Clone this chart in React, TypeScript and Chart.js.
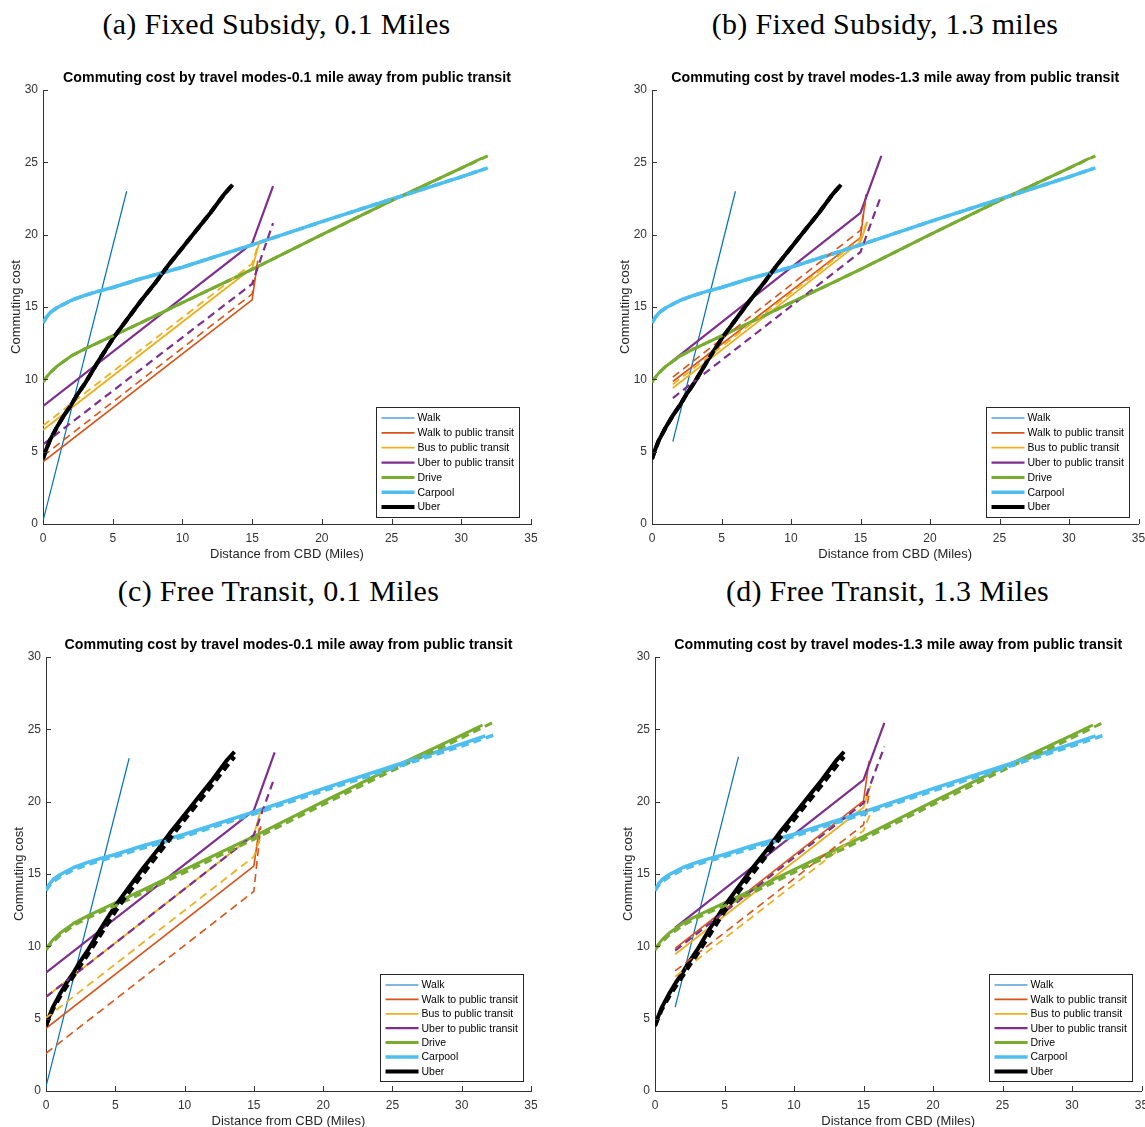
import React, { useEffect, useRef } from "react";
import { Chart, registerables } from "chart.js";

Chart.register(...registerables);

type Pt = [number, number];

// ---------- labels ----------
const LEGEND_LABELS = [
  "Walk",
  "Walk to public transit",
  "Bus to public transit",
  "Uber to public transit",
  "Drive",
  "Carpool",
  "Uber",
];
const X_TICKS = [0, 5, 10, 15, 20, 25, 30, 35];
const Y_TICKS = [0, 5, 10, 15, 20, 25, 30];
const X_TITLE = "Distance from CBD (Miles)";
const Y_TITLE = "Commuting cost";
const TITLE_01 = "Commuting cost by travel modes-0.1 mile away from public transit";
const TITLE_13 = "Commuting cost by travel modes-1.3 mile away from public transit";
const CAPTIONS = [
  "(a) Fixed Subsidy, 0.1 Miles",
  "(b) Fixed Subsidy, 1.3 miles",
  "(c) Free Transit, 0.1 Miles",
  "(d) Free Transit, 1.3 Miles",
];

// ---------- shared curves (solid, baseline) ----------
const DRIVE_X = [0, 0.25, 0.5, 1, 1.5, 2, 3, 4, 5, 7, 10, 15, 20, 25, 30, 31.5];
const DRIVE_Y = [9.8, 10.15, 10.45, 10.9, 11.25, 11.6, 12.1, 12.55, 13.0, 13.9, 15.3, 17.6, 20.0, 22.35, 24.6, 25.3];
const CARPOOL_X = [0, 0.25, 0.5, 1, 2, 3, 4, 5, 7, 10, 15, 20, 25, 30, 31.7];
const CARPOOL_Y = [13.9, 14.3, 14.6, 14.95, 15.45, 15.8, 16.1, 16.35, 16.95, 17.75, 19.3, 20.9, 22.45, 24.0, 24.55];
const UBER_X = [0, 0.25, 0.5, 1, 1.5, 2, 2.5, 3, 3.5, 4, 5, 6, 7, 8, 9, 10, 11, 12, 13, 13.6];
const UBER_Y = [4.5, 5.2, 5.8, 6.7, 7.5, 8.2, 9.0, 9.7, 10.5, 11.3, 12.8, 14.1, 15.4, 16.6, 17.9, 19.1, 20.3, 21.5, 22.8, 23.45];

// ---------- shared curves (dashed, fixed subsidy) ----------
const DRIVE_SUB_X = [0, 0.25, 0.5, 1, 1.5, 2, 3, 4, 5, 7, 10, 15, 20, 25, 30, 31.9];
const DRIVE_SUB_Y = [9.8, 10.15, 10.45, 10.9, 11.25, 11.6, 12.1, 12.55, 13.0, 13.9, 15.3, 17.6, 20.0, 22.35, 24.6, 25.45];
const CARPOOL_SUB_X = [0, 0.25, 0.5, 1, 2, 3, 4, 5, 7, 10, 15, 20, 25, 30, 31.9];
const CARPOOL_SUB_Y = [13.9, 14.3, 14.6, 14.95, 15.45, 15.8, 16.1, 16.35, 16.95, 17.75, 19.3, 20.9, 22.45, 24.0, 24.62];
const UBER_SUB_X = [0, 0.25, 0.5, 1, 1.5, 2, 2.5, 3, 3.5, 4, 5, 6, 7, 8, 9, 10, 11, 12, 13, 13.5];
const UBER_SUB_Y = [4.5, 5.2, 5.8, 6.7, 7.5, 8.2, 9.0, 9.7, 10.5, 11.3, 12.8, 14.1, 15.4, 16.6, 17.9, 19.1, 20.3, 21.5, 22.8, 23.35];

// ---------- shared curves (dashed, free transit) ----------
const DRIVE_FREE_X = [0, 0.25, 0.5, 1, 1.5, 2, 3, 4, 5, 7, 10, 15, 20, 25, 30, 32.3];
const DRIVE_FREE_Y = [9.75, 10.05, 10.3, 10.75, 11.1, 11.45, 11.95, 12.4, 12.8, 13.7, 15.1, 17.4, 19.8, 22.15, 24.4, 25.5];
const CARPOOL_FREE_X = [0, 0.25, 0.5, 1, 2, 3, 4, 5, 7, 10, 15, 20, 25, 30, 32.3];
const CARPOOL_FREE_Y = [13.85, 14.2, 14.45, 14.8, 15.3, 15.65, 15.95, 16.2, 16.8, 17.6, 19.15, 20.75, 22.3, 23.85, 24.6];
const UBER_FREE_X = [0, 0.25, 0.5, 1, 1.5, 2, 2.5, 3, 3.5, 4, 5, 6, 7, 8, 9, 10, 11, 12, 13, 13.6];
const UBER_FREE_Y = [4.5, 5.1, 5.65, 6.5, 7.25, 7.95, 8.7, 9.4, 10.15, 10.9, 12.4, 13.75, 15.0, 16.25, 17.5, 18.75, 19.95, 21.15, 22.4, 23.1];

// ---------- panel (a): fixed subsidy, 0.1 miles ----------
const WALK_A: Pt[] = [[0, 0.2], [6, 23.0]];
const WTPT_A: Pt[] = [[0, 4.3], [15, 15.5], [15.4, 18.2]];
const WTPT_A_D: Pt[] = [[0, 4.7], [15, 15.9], [15.4, 18.2]];
const BUS_A: Pt[] = [[0, 6.5], [15, 17.7], [15.5, 19.4]];
const BUS_A_D: Pt[] = [[0, 6.8], [15, 18.0], [15.5, 19.5]];
const UTPT_A: Pt[] = [[0, 8.15], [15, 19.4], [16.5, 23.35]];
const UTPT_A_D: Pt[] = [[0, 5.5], [15, 16.6], [16.5, 20.8]];

// ---------- panel (b): fixed subsidy, 1.3 miles ----------
const WALK_B: Pt[] = [[1.5, 5.7], [6, 23.0]];
const WTPT_B: Pt[] = [[1.5, 9.85], [15, 19.8], [15.4, 22.8]];
const WTPT_B_D: Pt[] = [[1.5, 10.15], [15, 20.3], [15.4, 22.5]];
const BUS_B: Pt[] = [[1.5, 9.4], [15, 19.5], [15.5, 20.9]];
const BUS_B_D: Pt[] = [[1.5, 9.65], [15, 19.7], [15.5, 21.0]];
const UTPT_B: Pt[] = [[1.5, 11.3], [15, 21.5], [16.5, 25.45]];
const UTPT_B_D: Pt[] = [[1.5, 8.7], [15, 18.8], [16.5, 22.75]];

// ---------- panel (c): free transit, 0.1 miles ----------
const WALK_C: Pt[] = [[0, 0.3], [6, 23.0]];
const WTPT_C: Pt[] = [[0, 4.33], [15, 15.55], [15.4, 18.2]];
const WTPT_C_D: Pt[] = [[0, 2.6], [15, 13.8], [15.5, 18.3]];
const BUS_C: Pt[] = [[0, 6.5], [15, 17.7], [15.5, 19.4]];
const BUS_C_D: Pt[] = [[0, 5.05], [15, 16.2], [15.5, 17.6]];
const UTPT_C: Pt[] = [[0, 8.18], [15, 19.4], [16.5, 23.4]];
const UTPT_C_D: Pt[] = [[0, 6.5], [15, 17.7], [16.5, 21.7]];

// ---------- panel (d): free transit, 1.3 miles ----------
const WALK_D: Pt[] = [[1.45, 5.8], [6, 23.1]];
const WTPT_D: Pt[] = [[1.45, 9.86], [15, 20.05], [15.4, 22.8]];
const WTPT_D_D: Pt[] = [[1.45, 8.3], [15, 18.4], [15.4, 20.5]];
const BUS_D: Pt[] = [[1.45, 9.45], [15, 19.6], [15.5, 21.1]];
const BUS_D_D: Pt[] = [[1.45, 7.9], [15, 18.0], [15.5, 19.2]];
const UTPT_D: Pt[] = [[1.45, 11.3], [15, 21.5], [16.5, 25.45]];
const UTPT_D_D: Pt[] = [[1.45, 9.7], [15, 19.9], [16.5, 23.8]];

// ---------- styles ----------
const COLORS = ["#0072BD", "#D95319", "#EDB120", "#7E2F8E", "#77AC30", "#4DBEEE", "#000000"];
const WIDTHS = [1.2, 1.6, 1.8, 2.2, 3, 3.5, 4];
const DASH = [8, 5];
const SANS = "'Liberation Sans', Arial, Helvetica, sans-serif";
const AXIS_COLOR = "#333333";

const xy = (xs: number[], ys: number[]) => xs.map((x, i) => ({ x, y: ys[i] }));
const pp = (p: Pt[]) => p.map(([x, y]) => ({ x, y }));

interface Panel {
  caption: string;
  capX: number;
  capY: number;
  title: string;
  left: number;
  top: number;
  W: number;
  H: number;
  plotLeft: number;
  plotRight: number;
  plotTop: number;
  plotBottom: number;
  legRight: number;
  legBottom: number;
  legH: number;
  solid: { x: number; y: number }[][];
  dashed: ({ x: number; y: number }[] | null)[];
}

const PANELS: Panel[] = [
  {
    caption: CAPTIONS[0], capX: 276.5, capY: 24, title: TITLE_01,
    left: 0, top: 55, W: 570, H: 520,
    plotLeft: 43, plotRight: 531, plotTop: 90, plotBottom: 524,
    legRight: 12, legBottom: 7, legH: 110,
    solid: [pp(WALK_A), pp(WTPT_A), pp(BUS_A), pp(UTPT_A), xy(DRIVE_X, DRIVE_Y), xy(CARPOOL_X, CARPOOL_Y), xy(UBER_X, UBER_Y)],
    dashed: [null, pp(WTPT_A_D), pp(BUS_A_D), pp(UTPT_A_D), xy(DRIVE_SUB_X, DRIVE_SUB_Y), xy(CARPOOL_SUB_X, CARPOOL_SUB_Y), xy(UBER_SUB_X, UBER_SUB_Y)],
  },
  {
    caption: CAPTIONS[1], capX: 885, capY: 24, title: TITLE_13,
    left: 600, top: 55, W: 560, H: 520,
    plotLeft: 652, plotRight: 1138.5, plotTop: 90, plotBottom: 524,
    legRight: 9.5, legBottom: 7, legH: 110,
    solid: [pp(WALK_B), pp(WTPT_B), pp(BUS_B), pp(UTPT_B), xy(DRIVE_X, DRIVE_Y), xy(CARPOOL_X, CARPOOL_Y), xy(UBER_X, UBER_Y)],
    dashed: [null, pp(WTPT_B_D), pp(BUS_B_D), pp(UTPT_B_D), xy(DRIVE_SUB_X, DRIVE_SUB_Y), xy(CARPOOL_SUB_X, CARPOOL_SUB_Y), xy(UBER_SUB_X, UBER_SUB_Y)],
  },
  {
    caption: CAPTIONS[2], capX: 278.5, capY: 591, title: TITLE_01,
    left: 0, top: 622, W: 570, H: 505,
    plotLeft: 46, plotRight: 531, plotTop: 657, plotBottom: 1091,
    legRight: 8, legBottom: 10, legH: 107,
    solid: [pp(WALK_C), pp(WTPT_C), pp(BUS_C), pp(UTPT_C), xy(DRIVE_X, DRIVE_Y), xy(CARPOOL_X, CARPOOL_Y), xy(UBER_X, UBER_Y)],
    dashed: [null, pp(WTPT_C_D), pp(BUS_C_D), pp(UTPT_C_D), xy(DRIVE_FREE_X, DRIVE_FREE_Y), xy(CARPOOL_FREE_X, CARPOOL_FREE_Y), xy(UBER_FREE_X, UBER_FREE_Y)],
  },
  {
    caption: CAPTIONS[3], capX: 887.5, capY: 591, title: TITLE_13,
    left: 600, top: 622, W: 560, H: 505,
    plotLeft: 655, plotRight: 1141.5, plotTop: 657, plotBottom: 1091,
    legRight: 9.5, legBottom: 10, legH: 107,
    solid: [pp(WALK_D), pp(WTPT_D), pp(BUS_D), pp(UTPT_D), xy(DRIVE_X, DRIVE_Y), xy(CARPOOL_X, CARPOOL_Y), xy(UBER_X, UBER_Y)],
    dashed: [null, pp(WTPT_D_D), pp(BUS_D_D), pp(UTPT_D_D), xy(DRIVE_FREE_X, DRIVE_FREE_Y), xy(CARPOOL_FREE_X, CARPOOL_FREE_Y), xy(UBER_FREE_X, UBER_FREE_Y)],
  },
];

function buildDatasets(p: Panel) {
  const list: any[] = [];
  p.solid.forEach((d, i) => {
    list.push({
      label: LEGEND_LABELS[i],
      data: d,
      borderColor: COLORS[i],
      borderWidth: WIDTHS[i],
      borderDash: [],
    });
  });
  p.dashed.forEach((d, i) => {
    if (!d) return;
    list.push({
      label: LEGEND_LABELS[i] + " (policy)",
      data: d,
      borderColor: COLORS[i],
      borderWidth: WIDTHS[i],
      borderDash: DASH,
    });
  });
  return list.map((ds, k) => ({
    ...ds,
    pointRadius: 0,
    pointHoverRadius: 0,
    fill: false,
    tension: 0,
    borderCapStyle: "butt",
    borderJoinStyle: "round",
    order: 100 - k,
  }));
}

function makeDecor(p: Panel) {
  return {
    id: "decor",
    afterDraw(chart: any) {
      const ctx: CanvasRenderingContext2D = chart.ctx;
      const a = chart.chartArea;
      const xs = chart.scales.x;
      const ys = chart.scales.y;
      ctx.save();
      // inward ticks
      ctx.strokeStyle = AXIS_COLOR;
      ctx.lineWidth = 1;
      ctx.beginPath();
      X_TICKS.forEach((v) => {
        const px = Math.round(xs.getPixelForValue(v)) + 0.5;
        ctx.moveTo(px, a.bottom);
        ctx.lineTo(px, a.bottom - 5);
      });
      Y_TICKS.forEach((v) => {
        const py = Math.round(ys.getPixelForValue(v)) + 0.5;
        ctx.moveTo(a.left, py);
        ctx.lineTo(a.left + 5, py);
      });
      ctx.stroke();

      // title
      const cx = (a.left + a.right) / 2;
      ctx.fillStyle = "#000";
      ctx.font = `bold 14.2px ${SANS}`;
      ctx.textAlign = "center";
      ctx.textBaseline = "middle";
      ctx.fillText(p.title, cx, a.top - 12);

      // axis titles
      ctx.fillStyle = "#262626";
      ctx.font = `13px ${SANS}`;
      ctx.fillText(X_TITLE, cx, a.bottom + 30);
      ctx.save();
      ctx.translate(a.left - 27, (a.top + a.bottom) / 2);
      ctx.rotate(-Math.PI / 2);
      ctx.fillText(Y_TITLE, 0, 0);
      ctx.restore();

      // legend
      ctx.font = `10.5px ${SANS}`;
      let tw = 0;
      LEGEND_LABELS.forEach((l) => (tw = Math.max(tw, ctx.measureText(l).width)));
      const bw = 42 + tw + 5;
      const bh = p.legH;
      const bx = a.right - p.legRight - bw;
      const by = a.bottom - p.legBottom - bh;
      ctx.fillStyle = "#fff";
      ctx.fillRect(bx, by, bw, bh);
      ctx.strokeStyle = "#262626";
      ctx.lineWidth = 1;
      ctx.strokeRect(Math.round(bx) + 0.5, Math.round(by) + 0.5, Math.round(bw), Math.round(bh));
      const step = (bh - 10.5) / 6.7;
      LEGEND_LABELS.forEach((l, i) => {
        const ry = by + 11 + i * step;
        ctx.beginPath();
        ctx.strokeStyle = COLORS[i];
        ctx.lineWidth = WIDTHS[i];
        ctx.setLineDash([]);
        ctx.moveTo(bx + 6, ry);
        ctx.lineTo(bx + 39, ry);
        ctx.stroke();
        ctx.fillStyle = "#000";
        ctx.textAlign = "left";
        ctx.textBaseline = "middle";
        ctx.fillText(l, bx + 42, ry + 0.5);
      });
      ctx.restore();
    },
  };
}

function PanelChart({ p }: { p: Panel }) {
  const ref = useRef<HTMLCanvasElement>(null);
  useEffect(() => {
    const canvas = ref.current;
    if (!canvas) return;
    const yAxisW = p.plotLeft - p.left;
    const xAxisH = p.top + p.H - p.plotBottom;
    const chart = new Chart(canvas, {
      type: "line",
      data: { datasets: buildDatasets(p) as any },
      options: {
        animation: false,
        responsive: false,
        devicePixelRatio: 1,
        events: [],
        layout: {
          padding: {
            left: 0,
            bottom: 0,
            top: p.plotTop - p.top,
            right: p.left + p.W - p.plotRight,
          },
        },
        plugins: {
          legend: { display: false },
          tooltip: { enabled: false },
          title: { display: false },
        },
        scales: {
          x: {
            type: "linear",
            min: 0,
            max: 35,
            afterBuildTicks: (s: any) => {
              s.ticks = X_TICKS.map((v) => ({ value: v }));
            },
            afterFit: (s: any) => {
              s.height = xAxisH;
            },
            ticks: {
              autoSkip: false,
              maxRotation: 0,
              padding: 7,
              color: AXIS_COLOR,
              font: { family: SANS, size: 12 },
            },
            grid: { display: false, drawTicks: false },
            border: { display: true, color: AXIS_COLOR, width: 1 },
          },
          y: {
            type: "linear",
            min: 0,
            max: 30,
            afterBuildTicks: (s: any) => {
              s.ticks = Y_TICKS.map((v) => ({ value: v }));
            },
            afterFit: (s: any) => {
              s.width = yAxisW;
            },
            ticks: {
              autoSkip: false,
              padding: 5,
              color: AXIS_COLOR,
              font: { family: SANS, size: 12 },
            },
            grid: { display: false, drawTicks: false },
            border: { display: true, color: AXIS_COLOR, width: 1 },
          },
        },
      },
      plugins: [makeDecor(p)],
    });
    return () => chart.destroy();
  }, [p]);
  return (
    <canvas
      ref={ref}
      width={p.W}
      height={p.H}
      style={{ position: "absolute", left: p.left, top: p.top, width: p.W, height: p.H }}
    />
  );
}

export default function App() {
  return (
    <div
      style={{
        position: "absolute",
        left: 0,
        top: 0,
        width: 1145,
        height: 1127,
        overflow: "hidden",
        background: "#fff",
      }}
    >
      {PANELS.map((p, i) => (
        <div
          key={"cap" + i}
          style={{
            position: "absolute",
            left: p.capX - 300,
            top: p.capY - 17,
            width: 600,
            height: 34,
            lineHeight: "34px",
            textAlign: "center",
            fontFamily: "'Liberation Serif', 'Times New Roman', serif",
            fontSize: 30,
            letterSpacing: "0.3px",
            color: "#000",
            whiteSpace: "nowrap",
          }}
        >
          {p.caption}
        </div>
      ))}
      {PANELS.map((p, i) => (
        <PanelChart key={"chart" + i} p={p} />
      ))}
    </div>
  );
}
